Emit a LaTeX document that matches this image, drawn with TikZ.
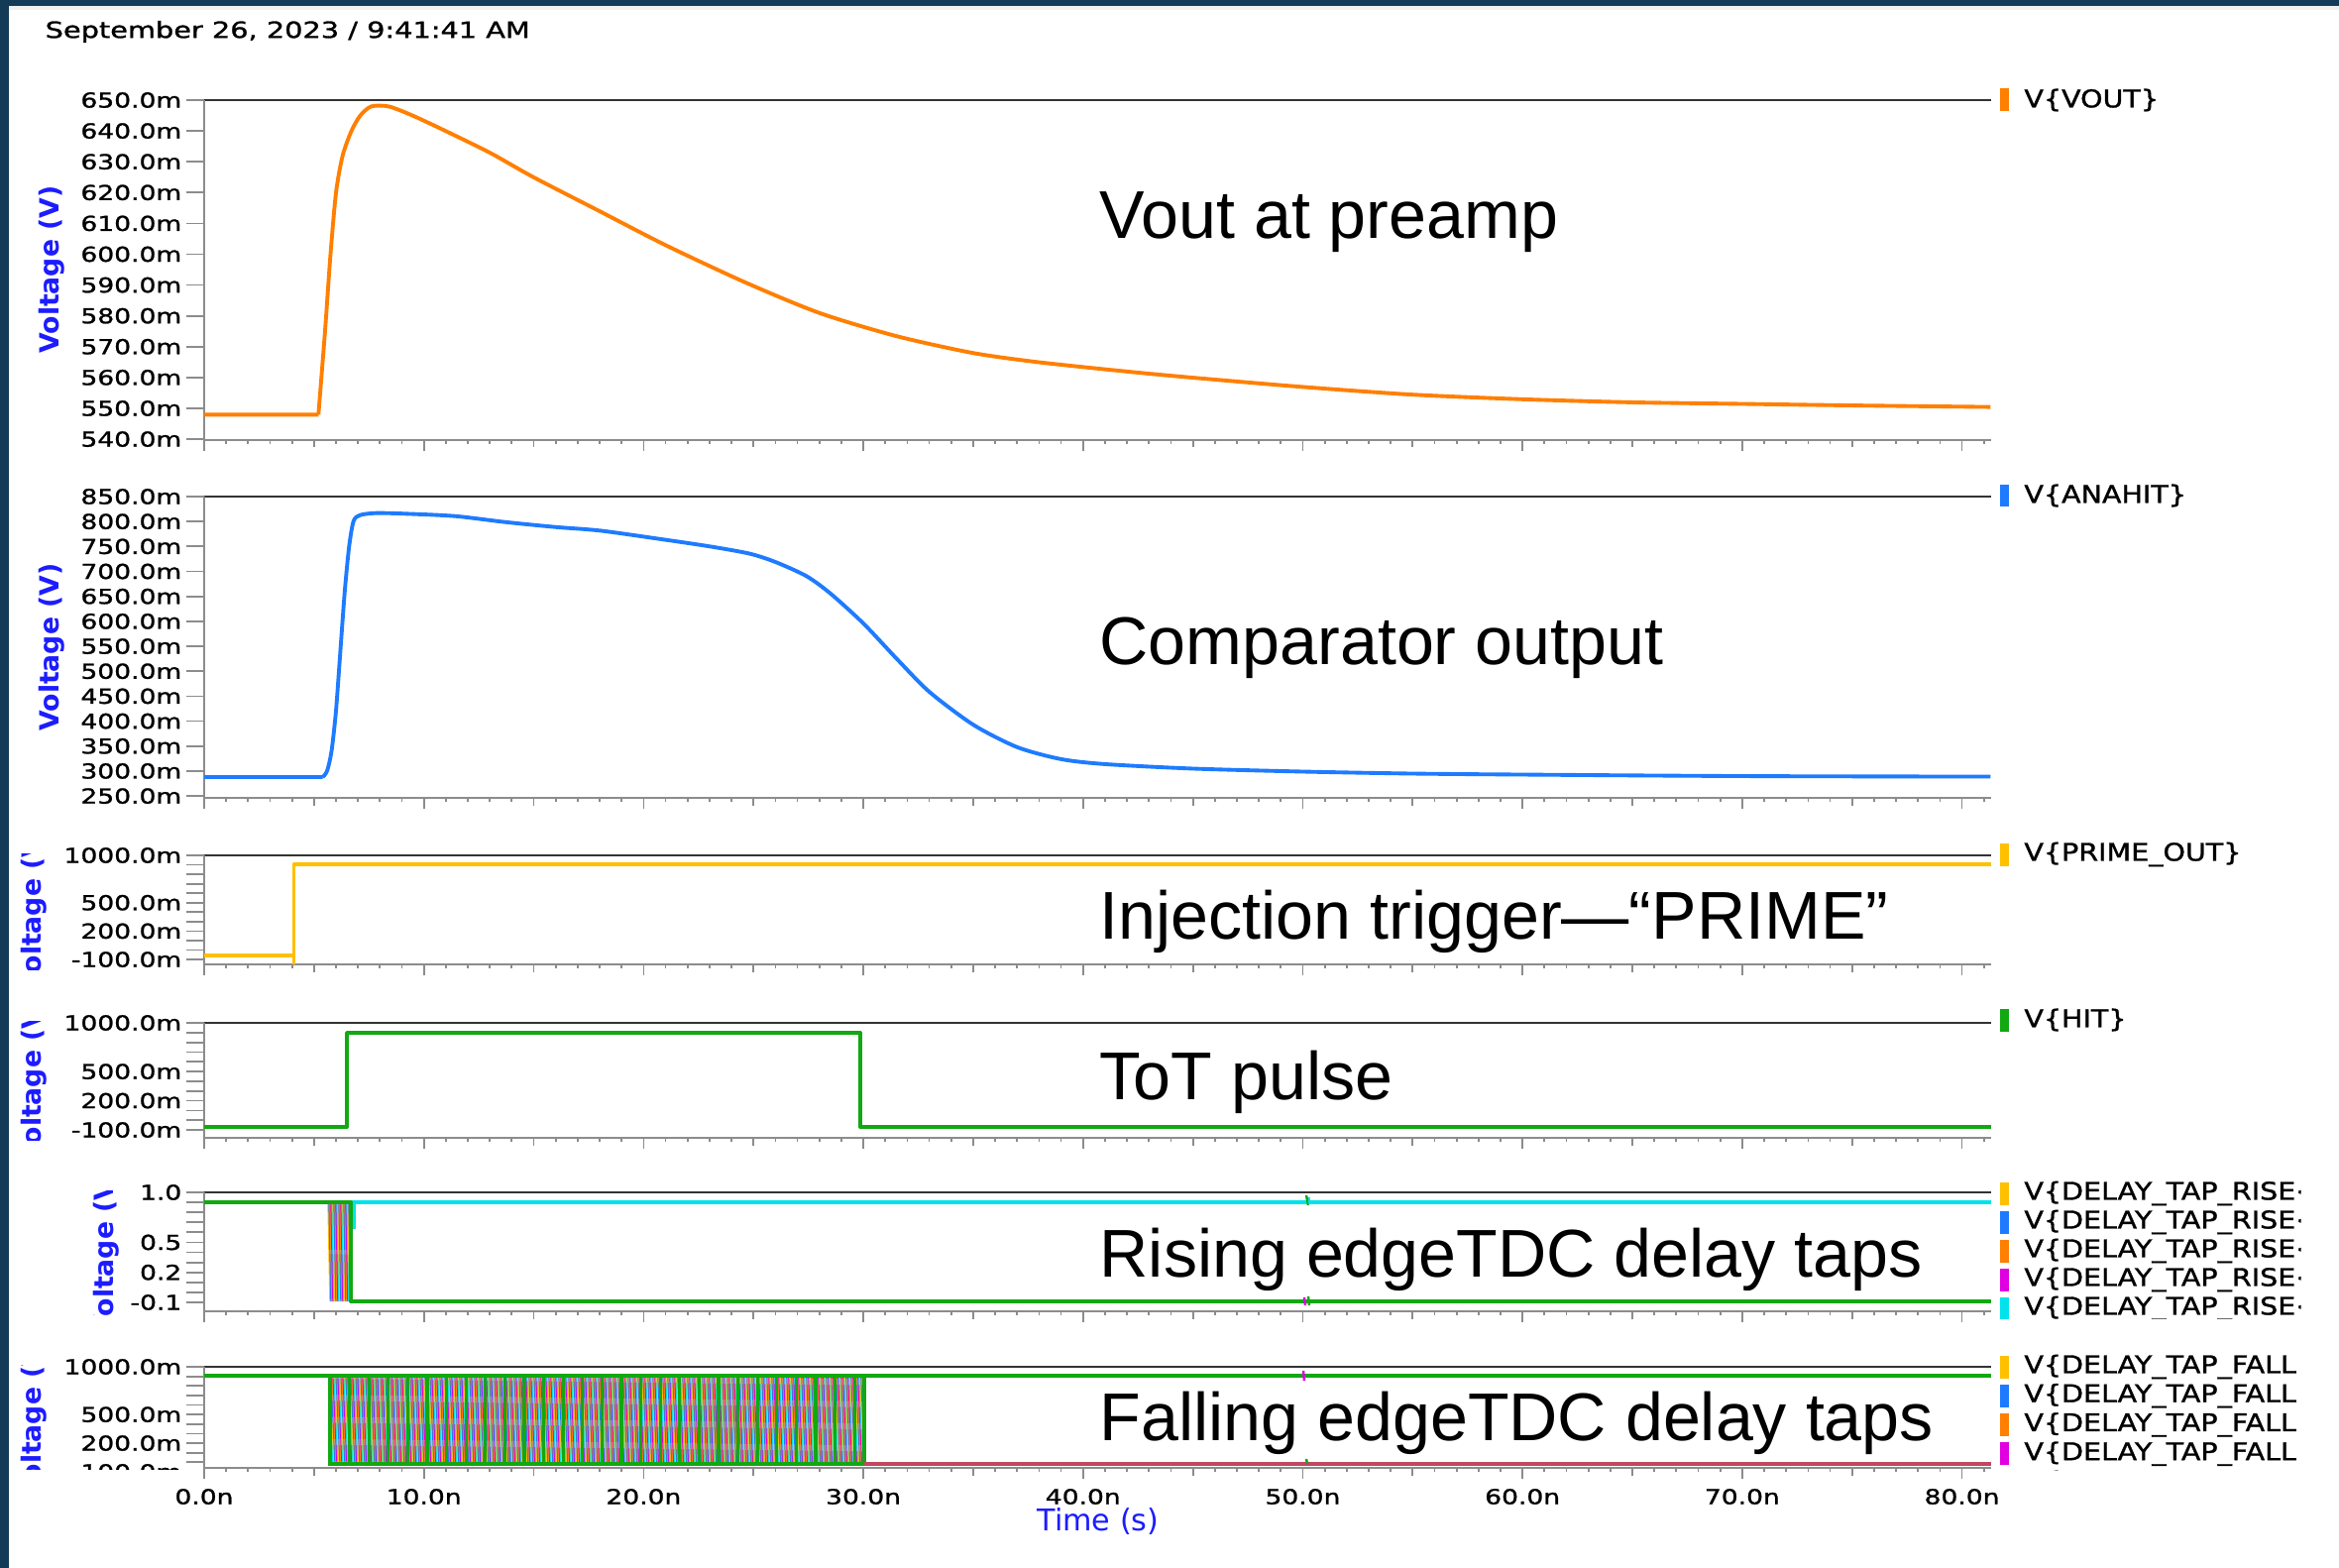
\documentclass[tikz,border=0pt]{standalone}
\usepackage{fontspec}
\setmainfont{Liberation Sans}
\newfontfamily\uifont[FakeStretch=1.28, FakeBold=1.2]{DejaVu Sans}
\newfontfamily\lgdfont[FakeStretch=1.16, FakeBold=1.2]{DejaVu Sans}
\newfontfamily\axfont{DejaVu Sans}
\usetikzlibrary{positioning}

\definecolor{frame}{HTML}{133B57}
\definecolor{vout}{HTML}{FF7F00}
\definecolor{anahit}{HTML}{1E7BFF}
\definecolor{prime}{HTML}{FFC000}
\definecolor{hit}{HTML}{12A812}
\definecolor{tapcyan}{HTML}{00E2EC}
\definecolor{tapmag}{HTML}{E000E0}
\definecolor{tapred}{HTML}{C04860}
\definecolor{axblue}{HTML}{1C1CFF}
\definecolor{axgray}{HTML}{8C8C8C}
\colorlet{tap0}{prime}
\colorlet{tap1}{anahit}
\colorlet{tap2}{vout}
\colorlet{tap3}{tapmag}
\colorlet{tap4}{tapcyan}

\begin{document}
\begin{tikzpicture}[
    trace/.style={line width=1.1pt, line join=round},
    topline/.style={draw=black!80, line width=0.6pt},
    axisline/.style={draw=axgray, line width=0.6pt},
    tick/.style={draw=axgray, line width=0.5pt},
    ticklbl/.style={font=\uifont\fontsize{5.9}{7}\selectfont, inner sep=0pt},
    lgd/.style={font=\lgdfont\fontsize{7}{8}\selectfont, inner sep=0pt, anchor=west},
    swatch/.style={minimum width=0.09cm, minimum height=0.23cm, inner sep=0pt},
    anno/.style={font=\fontsize{19.4}{22}\selectfont, inner sep=0pt, anchor=base west},
    ylbl/.style={font=\axfont\bfseries\fontsize{7.6}{9}\selectfont, text=axblue, rotate=90, inner sep=0pt}
]
\useasboundingbox (0,0) rectangle (23.6,-15.82);

% Window frame
\fill[white] (0,0) rectangle (23.6,-15.82);
\fill[frame] (0,0) rectangle (23.6,-0.06);
\fill[frame] (0,0) rectangle (0.085,-15.82);
\fill[black!6] (0.085,-0.06) rectangle (23.6,-0.1);

% Header
\node[font=\uifont\fontsize{6.4}{8}\selectfont, anchor=west, inner sep=0pt] (stamp) at (0.45,-0.32) {September 26, 2023 / 9:41:41 AM};

% Panel frames and time ticks
\foreach \ytop/\ybot in {1.01/4.44, 5.01/8.05, 8.63/9.73, 10.32/11.48, 12.03/13.23, 13.79/14.81} {
  \draw[topline] (2.06,-\ytop) -- (20.09,-\ytop);
  \draw[axisline] (2.06,-\ytop) -- (2.06,-\ybot) -- (20.09,-\ybot);
  \foreach \t in {0,...,81} {
    \pgfmathsetmacro\tl{mod(\t,10)==0 ? 0.11 : (mod(\t,5)==0 ? 0.075 : 0.04)}
    \draw[tick] ({2.06+0.2217*\t},-\ybot) -- ++(0,-\tl);
  }
}

% Time axis
\foreach \t in {0,10,...,80} {
  \node[ticklbl] (tlbl\t) at ({2.06+0.2217*\t},-15.10) {\t.0n};
}
\node[font=\axfont\fontsize{8.6}{10}\selectfont, text=axblue, inner sep=0pt] (tname) at (11.08,-15.35) {Time (s)};

% Panel 1 - VOUT
\foreach \v in {650,640,...,540} {
  \pgfmathsetmacro\yy{-(1.01+(650-\v)*0.0311)}
  \draw[tick] (1.88,\yy) -- (2.06,\yy);
  \node[ticklbl, anchor=east] (voutlbl\v) at (1.84,\yy) {\v.0m};
}
\node[ylbl] (voutax) at (0.52,-2.72) {Voltage (V)};
\begin{scope}[shift={(2.06,-21.225)}, x=0.2217cm, y=0.0311cm]
  \draw[trace, vout] (0,548) -- (5.2,548)
    plot[smooth, tension=0.45] coordinates {(5.2,548) (5.5,575) (5.75,600) (6.0,620)
    (6.3,632) (6.7,640) (7.1,645) (7.6,648) (8.4,648) (9.5,645) (11,640) (13,633)
    (15,625) (18,614) (21,603) (24.6,591) (28,581) (31.5,573.5) (35,568) (38,565)
    (42,562) (45,560) (50,557) (55,554.5) (60,553) (65,552) (70,551.5) (75,551) (81.3,550.5)};
\end{scope}

% Panel 2 - ANAHIT
\foreach \v in {850,800,...,250} {
  \pgfmathsetmacro\yy{-(5.01+(850-\v)*0.00503)}
  \draw[tick] (1.88,\yy) -- (2.06,\yy);
  \node[ticklbl, anchor=east] (anahitlbl\v) at (1.84,\yy) {\v.0m};
}
\node[ylbl] (anahitax) at (0.52,-6.53) {Voltage (V)};
\begin{scope}[shift={(2.06,-9.2855)}, x=0.2217cm, y=0.00503cm]
  \draw[trace, anahit] (0,287) -- (5.4,287)
    plot[smooth, tension=0.45] coordinates {(5.4,287) (5.6,300) (5.8,340) (6.0,420)
    (6.2,540) (6.4,660) (6.6,750) (6.8,800) (7.1,812) (7.8,816) (9,815) (11.4,810)
    (13.7,798) (16,788) (18,781) (20.6,765) (22.9,750) (24.8,735) (26,718) (27.4,690)
    (28.5,655) (30,595) (31.5,525) (33,458) (35,392) (37,347) (39,323) (41,313)
    (45,304) (50,298) (55,294) (60,292) (70,289) (81.3,288)};
\end{scope}

% Panel 3 - PRIME_OUT
\foreach \k in {0,...,11} {
  \pgfmathsetmacro\yy{-(8.63+0.0955*\k)}
  \draw[tick] (1.88,\yy) -- (2.06,\yy);
}
\foreach \k/\lb in {0/1000.0m, 5/500.0m, 8/200.0m, 11/-100.0m} {
  \node[ticklbl, anchor=east] (primelbl\k) at (1.84,{-(8.63+0.0955*\k)}) {\lb};
}
\begin{scope}
  \clip (0.1,-8.61) rectangle (1.0,-9.78);
  \node[ylbl] (primeax) at (0.34,-9.17) {Voltage (V)};
\end{scope}
\draw[trace, prime] (2.06,-9.64) -- (2.965,-9.64);
\draw[trace, prime] (2.965,-9.73) -- (2.965,-8.72) -- (20.09,-8.72);

% Panel 4 - HIT
\foreach \k in {0,...,11} {
  \pgfmathsetmacro\yy{-(10.32+0.0982*\k)}
  \draw[tick] (1.88,\yy) -- (2.06,\yy);
}
\foreach \k/\lb in {0/1000.0m, 5/500.0m, 8/200.0m, 11/-100.0m} {
  \node[ticklbl, anchor=east] (hitlbl\k) at (1.84,{-(10.32+0.0982*\k)}) {\lb};
}
\begin{scope}
  \clip (0.1,-10.30) rectangle (1.0,-11.50);
  \node[ylbl] (hitax) at (0.34,-10.90) {Voltage (V)};
\end{scope}
\draw[trace, hit] (2.06,-11.37) -- (3.50,-11.37) -- (3.50,-10.42) -- (8.68,-10.42)
  -- (8.68,-11.37) -- (20.09,-11.37);

% Panel 5 - rising edge taps
\foreach \k in {0,...,11} {
  \pgfmathsetmacro\yy{-(12.03+0.1009*\k)}
  \draw[tick] (1.88,\yy) -- (2.06,\yy);
}
\foreach \k/\lb in {0/1.0, 5/0.5, 8/0.2, 11/-0.1} {
  \node[ticklbl, anchor=east] (riselbl\k) at (1.84,{-(12.03+0.1009*\k)}) {\lb};
}
\begin{scope}
  \clip (0.8,-12.01) rectangle (1.35,-13.26);
  \node[ylbl] (riseax) at (1.07,-12.63) {Voltage (V)};
\end{scope}
\foreach \k in {0,...,21} {
  \pgfmathtruncatemacro\c{mod(\k,5)}
  \draw[tap\c, line width=0.4pt] ({3.31+0.01*\k},-12.13) -- ++(0.02,-1.0);
}
\draw[trace, tapcyan] (3.52,-12.13) -- (20.09,-12.13);
\draw[trace, tapcyan] (3.57,-12.13) -- (3.57,-12.40);
\draw[trace, hit] (2.06,-12.13) -- (3.54,-12.13) -- (3.54,-13.13) -- (20.09,-13.13);
\draw[hit, line width=0.7pt] (13.18,-12.06) -- (13.20,-12.16);
\draw[tapcyan, line width=0.7pt] (13.21,-12.08) -- (13.21,-12.15);
\draw[tapmag, line width=0.7pt] (13.16,-13.09) -- (13.17,-13.17);
\draw[hit, line width=0.7pt] (13.20,-13.08) -- (13.21,-13.17);

% Panel 6 - falling edge taps
\begin{scope}
  \clip (0.1,-13.6) rectangle (2.1,-14.82);
  \foreach \k in {0,...,11} {
    \pgfmathsetmacro\yy{-(13.79+0.0963*\k)}
    \draw[tick] (1.88,\yy) -- (2.06,\yy);
  }
  \foreach \k/\lb in {0/1000.0m, 5/500.0m, 8/200.0m, 11/-100.0m} {
    \node[ticklbl, anchor=east] (falllbl\k) at (1.84,{-(13.79+0.0963*\k)}) {\lb};
  }
\end{scope}
\begin{scope}
  \clip (0.1,-13.77) rectangle (1.0,-14.82);
  \node[ylbl] (fallax) at (0.34,-14.30) {Voltage (V)};
\end{scope}
\begin{scope}
  \clip (3.31,-13.80) rectangle (8.72,-14.85);
  \foreach \k in {0,...,545} {
    \pgfmathtruncatemacro\c{mod(\k,5)}
    \draw[tap\c, line width=0.35pt] ({3.28+0.01*\k},-13.88) -- ++(0.04,-0.89);
  }
\end{scope}
\foreach \k in {0,...,27} {
  \draw[hit, line width=0.9pt] ({3.33+0.196*\k},-13.88) -- ++(0,-0.89);
}
\draw[trace, hit] (8.72,-13.88) -- (8.72,-14.77);
\draw[trace, hit] (3.31,-14.77) -- (8.72,-14.77);
\draw[trace, tapred] (8.72,-14.77) -- (20.09,-14.77);
\draw[trace, hit] (2.06,-13.88) -- (20.09,-13.88);
\draw[tapmag, line width=0.7pt] (13.15,-13.83) -- (13.16,-13.93);
\draw[hit, line width=0.7pt] (13.18,-14.72) -- (13.19,-14.77);

% Annotations
\node[anno] (voutnote) at (11.09,-2.41) {Vout at preamp};
\node[anno] (anahitnote) at (11.09,-6.70) {Comparator output};
\node[anno] (primenote) at (11.09,-9.47) {Injection trigger—“PRIME”};
\node[anno] (hitnote) at (11.09,-11.09) {ToT pulse};
\node[anno] (risenote) at (11.09,-12.88) {Rising edgeTDC delay taps};
\node[anno] (fallnote) at (11.09,-14.53) {Falling edgeTDC delay taps};

% Legend
\node[swatch, fill=vout] (swvout) at (20.225,-1.01) {};
\node[lgd, right=0.14cm of swvout] (lgvout) {V\{VOUT\}};
\node[swatch, fill=anahit] (swanahit) at (20.225,-5.00) {};
\node[lgd, right=0.14cm of swanahit] (lganahit) {V\{ANAHIT\}};
\node[swatch, fill=prime] (swprime) at (20.225,-8.62) {};
\node[lgd, right=0.14cm of swprime] (lgprime) {V\{PRIME\_OUT\}};
\node[swatch, fill=hit] (swhit) at (20.225,-10.29) {};
\node[lgd, right=0.14cm of swhit] (lghit) {V\{HIT\}};
\begin{scope}
  \clip (20.1,-11.85) rectangle (23.215,-13.30);
  \foreach \c [count=\i] in {prime,anahit,vout,tapmag,tapcyan} {
    \node[swatch, fill=\c] (swrise\i) at (20.225,{-12.04-0.29*(\i-1)}) {};
    \node[lgd, right=0.14cm of swrise\i] (lgrise\i) {V\{DELAY\_TAP\_RISE<};
  }
\end{scope}
\begin{scope}
  \clip (20.1,-13.60) rectangle (23.17,-14.835);
  \foreach \c [count=\i] in {prime,anahit,vout,tapmag,tapcyan} {
    \node[swatch, fill=\c] (swfall\i) at (20.225,{-13.79-0.2925*(\i-1)}) {};
    \node[lgd, right=0.14cm of swfall\i] (lgfall\i) {V\{DELAY\_TAP\_FALL<};
  }
\end{scope}

\end{tikzpicture}
\end{document}
